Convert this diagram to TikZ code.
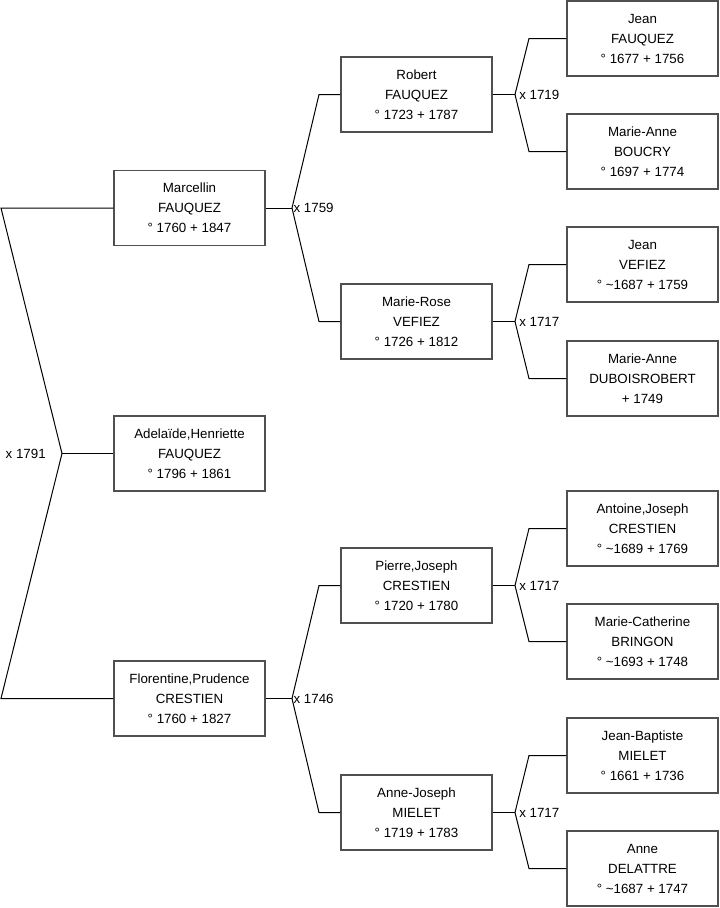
\documentclass[tikz,border=0pt]{standalone}
\usepackage{fontspec}
\setmainfont{Liberation Sans}
\definecolor{boxline}{HTML}{505050}
\begin{document}
\begin{tikzpicture}[x=0.75pt,y=-0.75pt,
  pbox/.style={draw=boxline,line width=0.9pt,fill=white,minimum width=113.25pt,minimum height=56.25pt,
    align=center,inner sep=0pt,font=\fontsize{10}{15}\selectfont},
  conn/.style={draw=black,line width=0.75pt},
  mlab/.style={inner sep=0.5pt,font=\fontsize{10}{12}\selectfont}]
\useasboundingbox (0,0) rectangle (719,908);
% level 1
\node[pbox] (marc) at (189.5,208) {Marcellin\\FAUQUEZ\\° 1760 + 1847};
\node[pbox] (adel) at (189.5,453.5) {Adelaïde,Henriette\\FAUQUEZ\\° 1796 + 1861};
\node[pbox] (flor) at (189.5,698.5) {Florentine,Prudence\\CRESTIEN\\° 1760 + 1827};
% level 2
\node[pbox] (robe) at (416.5,94.5) {Robert\\FAUQUEZ\\° 1723 + 1787};
\node[pbox] (mros) at (416.5,321.5) {Marie-Rose\\VEFIEZ\\° 1726 + 1812};
\node[pbox] (pier) at (416.5,585.5) {Pierre,Joseph\\CRESTIEN\\° 1720 + 1780};
\node[pbox] (ajos) at (416.5,812.5) {Anne-Joseph\\MIELET\\° 1719 + 1783};
% level 3
\node[pbox] (jfau) at (642.5,38.5) {Jean\\FAUQUEZ\\° 1677 + 1756};
\node[pbox] (mabo) at (642.5,151.5) {Marie-Anne\\BOUCRY\\° 1697 + 1774};
\node[pbox] (jvef) at (642.5,264.5) {Jean\\VEFIEZ\\° \textasciitilde1687 + 1759};
\node[pbox] (madu) at (642.5,378.5) {Marie-Anne\\DUBOISROBERT\\+ 1749};
\node[pbox] (ajcr) at (642.5,528.5) {Antoine,Joseph\\CRESTIEN\\° \textasciitilde1689 + 1769};
\node[pbox] (mcbr) at (642.5,641.5) {Marie-Catherine\\BRINGON\\° \textasciitilde1693 + 1748};
\node[pbox] (jbmi) at (642.5,755.5) {Jean-Baptiste\\MIELET\\° 1661 + 1736};
\node[pbox] (adel2) at (642.5,868.5) {Anne\\DELATTRE\\° \textasciitilde1687 + 1747};
% junction coordinates
\coordinate (j0) at (62,453.5);
\coordinate (t0) at (1,208);
\coordinate (b0) at (1,698.5);
\coordinate (j1) at (292,208);
\coordinate (j2) at (292,698.5);
\coordinate (j3) at (515,94.5);
\coordinate (j4) at (515,321.5);
\coordinate (j5) at (515,585.5);
\coordinate (j6) at (515,812.5);
% connectors
\draw[conn] (marc.west) -- (t0) -- (j0) -- (b0) -- (flor.west);
\draw[conn] (j0) -- (adel.west);
\draw[conn] (marc.east) -- (j1);
\draw[conn] (robe.west) -- (319,94.5) -- (j1) -- (319,321.5) -- (mros.west);
\draw[conn] (flor.east) -- (j2);
\draw[conn] (pier.west) -- (319,585.5) -- (j2) -- (319,812.5) -- (ajos.west);
\draw[conn] (robe.east) -- (j3);
\draw[conn] (jfau.west) -- (529,38.5) -- (j3) -- (529,151.5) -- (mabo.west);
\draw[conn] (mros.east) -- (j4);
\draw[conn] (jvef.west) -- (529,264.5) -- (j4) -- (529,378.5) -- (madu.west);
\draw[conn] (pier.east) -- (j5);
\draw[conn] (ajcr.west) -- (529,528.5) -- (j5) -- (529,641.5) -- (mcbr.west);
\draw[conn] (ajos.east) -- (j6);
\draw[conn] (jbmi.west) -- (529,755.5) -- (j6) -- (529,868.5) -- (adel2.west);
% marriage labels
\node[mlab,anchor=east] (m0) at ([xshift=-11.5pt]j0) {x 1791};
\node[mlab,anchor=west] (m1) at ([xshift=0.5pt]j1) {x 1759};
\node[mlab,anchor=west] (m2) at ([xshift=0.5pt]j2) {x 1746};
\node[mlab,anchor=west] (m3) at ([xshift=2.5pt]j3) {x 1719};
\node[mlab,anchor=west] (m4) at ([xshift=2.5pt]j4) {x 1717};
\node[mlab,anchor=west] (m5) at ([xshift=2.5pt]j5) {x 1717};
\node[mlab,anchor=west] (m6) at ([xshift=2.5pt]j6) {x 1717};
\end{tikzpicture}
\end{document}
